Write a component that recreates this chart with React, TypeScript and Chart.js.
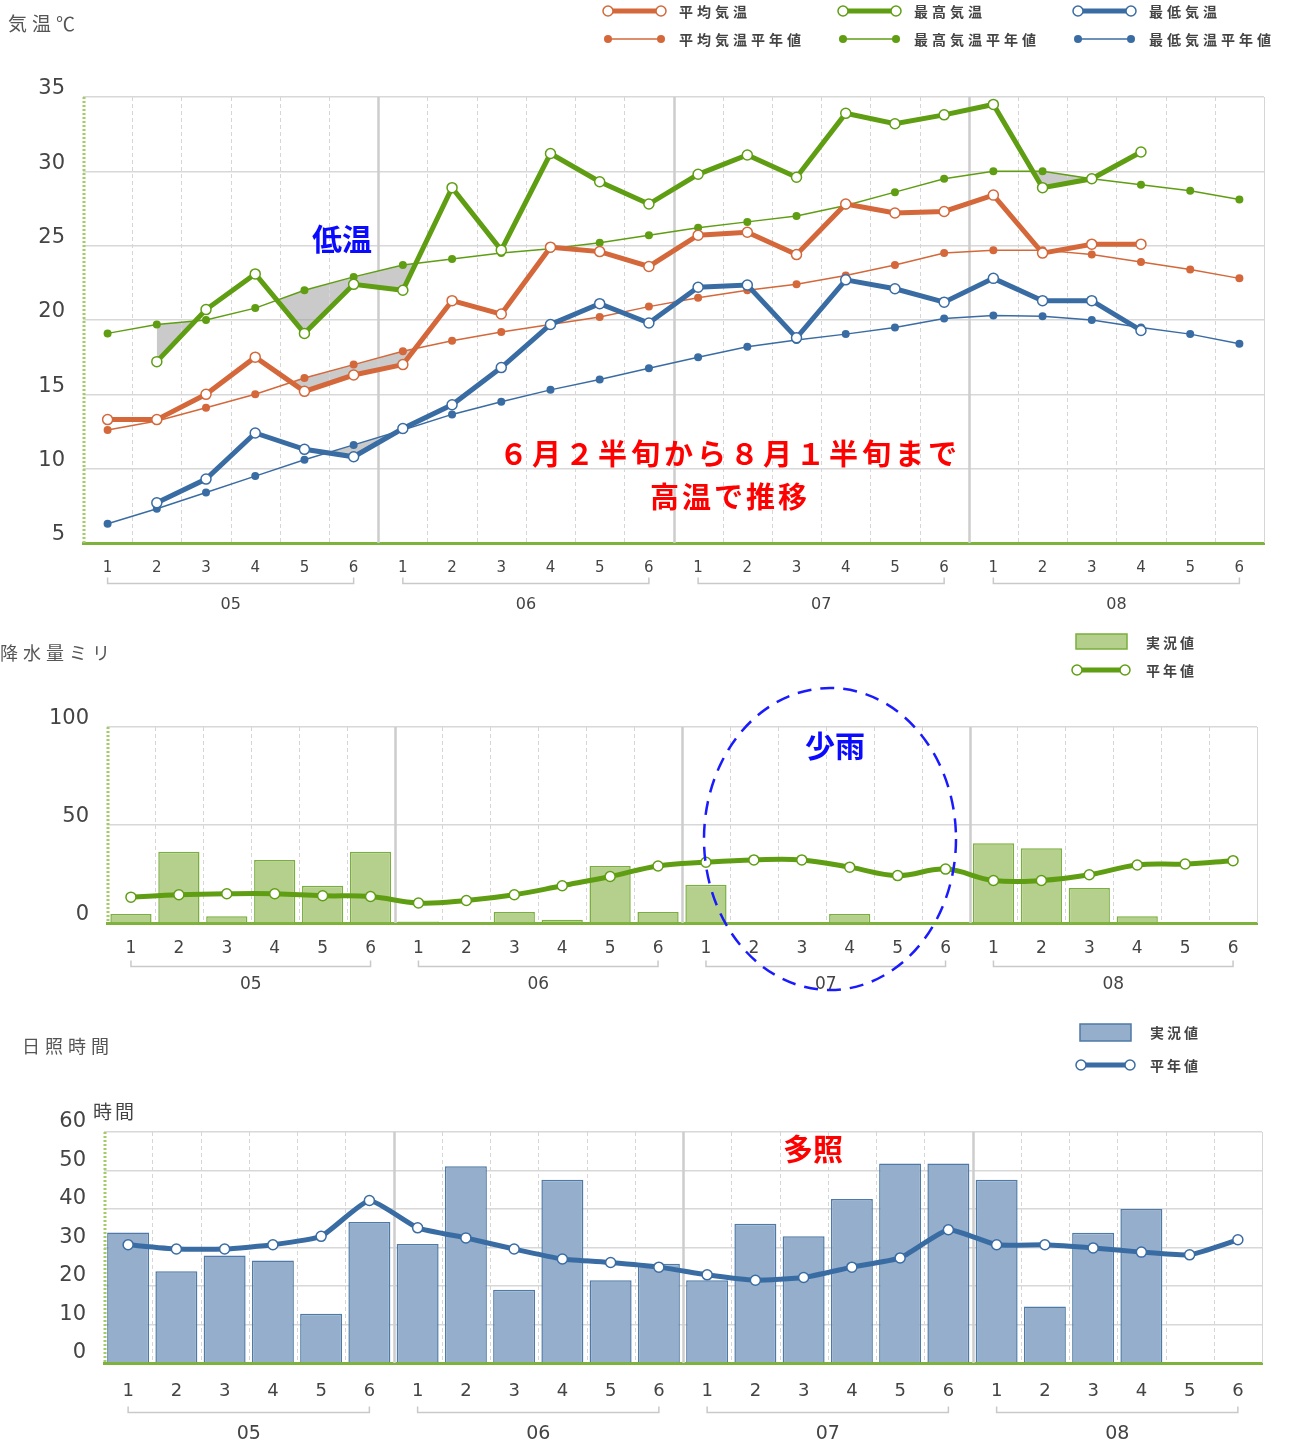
import React, { useEffect, useRef } from 'react';
import { Chart, registerables } from 'chart.js';

Chart.register(...registerables);

// ---------- data ----------
const months = ['05', '06', '07', '08'];
const pentads = ['1', '2', '3', '4', '5', '6'];
const categories = months.flatMap((m) => pentads.map((p) => `${m}-${p}`));

const avgTemp = [13.3, 13.3, 15.0, 17.5, 15.2, 16.3, 17.0, 21.3, 20.4, 24.9, 24.6, 23.6, 25.7, 25.9, 24.4, 27.8, 27.2, 27.3, 28.4, 24.5, 25.1, 25.1, null, null];
const avgTempNormal = [12.6, 13.2, 14.1, 15.0, 16.1, 17.0, 17.9, 18.6, 19.2, 19.7, 20.2, 20.9, 21.5, 22.0, 22.4, 23.0, 23.7, 24.5, 24.7, 24.7, 24.4, 23.9, 23.4, 22.8];
const maxTemp = [null, 17.2, 20.7, 23.1, 19.1, 22.4, 22.0, 28.9, 24.7, 31.2, 29.3, 27.8, 29.8, 31.1, 29.6, 33.9, 33.2, 33.8, 34.5, 28.9, 29.5, 31.3, null, null];
const maxTempNormal = [19.1, 19.7, 20.0, 20.8, 22.0, 22.9, 23.7, 24.1, 24.5, 24.8, 25.2, 25.7, 26.2, 26.6, 27.0, 27.7, 28.6, 29.5, 30.0, 30.0, 29.5, 29.1, 28.7, 28.1];
const minTemp = [null, 7.7, 9.3, 12.4, 11.3, 10.8, 12.7, 14.3, 16.8, 19.7, 21.1, 19.8, 22.2, 22.35, 18.8, 22.7, 22.1, 21.2, 22.8, 21.3, 21.3, 19.3, null, null];
const minTempNormal = [6.3, 7.3, 8.4, 9.5, 10.6, 11.6, 12.6, 13.65, 14.5, 15.3, 16.0, 16.75, 17.5, 18.2, 18.65, 19.05, 19.5, 20.1, 20.3, 20.25, 20.0, 19.5, 19.05, 18.4];

const precip = [4.6, 36.4, 3.4, 32.2, 19.0, 36.4, 0.8, 0, 5.6, 1.7, 29.1, 5.6, 19.5, 0, 0, 4.6, 0, 0, 40.7, 38.1, 17.8, 3.4, 0, 0];
const precipNormal = [13.2, 14.4, 14.9, 14.9, 13.9, 13.5, 10.2, 11.5, 14.4, 19.0, 23.7, 29.1, 31.0, 32.2, 32.2, 28.5, 24.2, 27.5, 21.7, 21.7, 24.6, 29.6, 30.1, 31.8];

const sunshine = [33.9, 23.8, 27.9, 26.6, 12.8, 36.6, 30.9, 51.1, 19.0, 47.6, 21.5, 25.8, 21.5, 36.2, 32.9, 42.6, 51.8, 51.8, 47.6, 14.7, 33.8, 40.0, null, null];
const sunshineNormal = [30.7, 29.6, 29.6, 30.7, 32.9, 42.2, 35.1, 32.5, 29.6, 27.0, 26.1, 24.9, 22.9, 21.5, 22.2, 24.9, 27.3, 34.6, 30.7, 30.7, 29.9, 28.8, 28.1, 32.0];

// ---------- styles ----------
const ORANGE = '#d4683a';
const GREEN = '#5f9e12';
const BLUE = '#3a6ca4';
const SHADE = 'rgba(150,150,150,0.5)';
const TICK_FONT = "'DejaVu Sans', Verdana, sans-serif";
const CJK = "'Noto Sans CJK JP', 'Noto Sans', sans-serif";

const decorPlugin = {
  id: 'decor',
  beforeDatasetsDraw(chart: any) {
    const { ctx, chartArea: a } = chart;
    const x = chart.scales.x;
    const n = chart.data.labels.length;
    ctx.save();
    for (let i = 1; i <= n; i++) {
      const px = Math.round(x.getPixelForValue(i - 0.5)) + 0.5;
      const monthEdge = i % pentads.length === 0 && i < n;
      ctx.beginPath();
      ctx.setLineDash(monthEdge || i === n ? [] : [4, 3]);
      ctx.lineWidth = monthEdge ? 2.5 : 1;
      ctx.strokeStyle = monthEdge ? '#cdcdcd' : '#d6d6d6';
      ctx.moveTo(px, a.top);
      ctx.lineTo(px, a.bottom);
      ctx.stroke();
    }
    ctx.setLineDash([2, 2]);
    ctx.lineWidth = 3;
    ctx.strokeStyle = '#a4cb66';
    ctx.beginPath();
    ctx.moveTo(a.left + 1, a.top);
    ctx.lineTo(a.left + 1, a.bottom);
    ctx.stroke();
    ctx.restore();
  },
  afterDraw(chart: any, _args: any, opts: any) {
    const { ctx, chartArea: a } = chart;
    const x = chart.scales.x;
    ctx.save();
    months.forEach((m, mi) => {
      const x1 = x.getPixelForValue(mi * pentads.length);
      const x2 = x.getPixelForValue(mi * pentads.length + pentads.length - 1);
      const by = Math.round(a.bottom + opts.bracketY) + 0.5;
      ctx.strokeStyle = '#c9c9c9';
      ctx.lineWidth = 1.5;
      ctx.beginPath();
      ctx.moveTo(x1, by - 6);
      ctx.lineTo(x1, by);
      ctx.lineTo(x2, by);
      ctx.lineTo(x2, by - 6);
      ctx.stroke();
      ctx.fillStyle = '#444';
      ctx.font = `${opts.monthSize}px ${TICK_FONT}`;
      ctx.textAlign = 'center';
      ctx.textBaseline = 'middle';
      ctx.fillText(m, (x1 + x2) / 2, a.bottom + opts.labelY);
    });
    ctx.restore();
  },
};

function xScale(height: number, size: number, padding: number) {
  return {
    type: 'category',
    offset: true,
    grid: { display: false, drawTicks: false },
    border: { display: true, color: '#7db33a', width: 3 },
    ticks: {
      color: '#444',
      font: { family: TICK_FONT, size },
      padding,
      autoSkip: false,
      maxRotation: 0,
      callback: (_v: any, i: number) => pentads[i % pentads.length],
    },
    afterFit: (s: any) => {
      s.height = height;
    },
  };
}

function yScale(width: number, min: number, max: number, step: number, labelOffset: number) {
  return {
    min,
    max,
    grid: { color: '#d8d8d8', lineWidth: 1.5, drawTicks: false },
    border: { display: false },
    ticks: {
      stepSize: step,
      color: '#444',
      font: { family: TICK_FONT, size: 21 },
      padding: 18,
      labelOffset,
    },
    afterFit: (s: any) => {
      s.width = width;
    },
  };
}

function lineDs(label: string, data: any[], color: string, thick: boolean, fill: any = false, tension = 0) {
  return {
    type: 'line',
    label,
    data,
    borderColor: color,
    backgroundColor: color,
    borderWidth: thick ? 5 : 1.5,
    pointRadius: thick ? 5 : 4,
    pointBackgroundColor: thick ? '#fff' : color,
    pointBorderColor: color,
    pointBorderWidth: thick ? 1.5 : 0,
    tension,
    fill,
    spanGaps: false,
  };
}

const basePlugins = (decor: any) => ({
  legend: { display: false },
  tooltip: { enabled: false },
  filler: { drawTime: 'beforeDatasetsDraw' },
  decor,
});

function tempConfig(): any {
  return {
    type: 'line',
    data: {
      labels: categories,
      datasets: [
        lineDs('平均気温', avgTemp, ORANGE, true, { target: 3, above: 'rgba(0,0,0,0)', below: SHADE }),
        lineDs('最高気温', maxTemp, GREEN, true, { target: 4, above: 'rgba(0,0,0,0)', below: SHADE }),
        lineDs('最低気温', minTemp, BLUE, true, { target: 5, above: 'rgba(0,0,0,0)', below: SHADE }),
        lineDs('平均気温平年値', avgTempNormal, ORANGE, false),
        lineDs('最高気温平年値', maxTempNormal, GREEN, false),
        lineDs('最低気温平年値', minTempNormal, BLUE, false),
      ],
    },
    options: {
      responsive: false,
      maintainAspectRatio: false,
      animation: false,
      layout: { padding: { top: 37, right: 26, left: 0, bottom: 0 } },
      scales: { x: xScale(77, 15, 16), y: yScale(83, 5, 35, 5, -8) },
      plugins: basePlugins({ bracketY: 40, labelY: 62, monthSize: 16 }),
    },
    plugins: [decorPlugin],
  };
}

function precipConfig(): any {
  return {
    type: 'bar',
    data: {
      labels: categories,
      datasets: [
        lineDs('平年値', precipNormal, GREEN, true, false, 0.4),
        {
          type: 'bar',
          label: '実況値',
          data: precip,
          backgroundColor: '#b5d08d',
          borderColor: '#7aae3e',
          borderWidth: 1.5,
          borderSkipped: 'bottom',
          barPercentage: 0.86,
          categoryPercentage: 1,
        },
      ],
    },
    options: {
      responsive: false,
      maintainAspectRatio: false,
      animation: false,
      layout: { padding: { top: 37, right: 33, left: 0, bottom: 0 } },
      scales: { x: xScale(77, 17, 15), y: yScale(107, 0, 100, 50, -8) },
      plugins: basePlugins({ bracketY: 43, labelY: 62, monthSize: 17 }),
    },
    plugins: [decorPlugin],
  };
}

function sunConfig(): any {
  return {
    type: 'bar',
    data: {
      labels: categories,
      datasets: [
        lineDs('平年値', sunshineNormal, BLUE, true, false, 0.15),
        {
          type: 'bar',
          label: '実況値',
          data: sunshine,
          backgroundColor: '#94aecb',
          borderColor: '#4f79a7',
          borderWidth: 1.5,
          borderSkipped: 'bottom',
          barPercentage: 0.87,
          categoryPercentage: 1,
        },
      ],
    },
    options: {
      responsive: false,
      maintainAspectRatio: false,
      animation: false,
      layout: { padding: { top: 42, right: 28, left: 0, bottom: 0 } },
      scales: { x: xScale(80, 18, 18), y: yScale(104, 0, 60, 10, -10) },
      plugins: basePlugins({ bracketY: 49, labelY: 71, monthSize: 19 }),
    },
    plugins: [decorPlugin],
  };
}

function ChartCanvas({ top, height, build }: { top: number; height: number; build: () => any }) {
  const ref = useRef<HTMLCanvasElement>(null);
  useEffect(() => {
    const chart = new Chart(ref.current as HTMLCanvasElement, build());
    return () => chart.destroy();
  }, []);
  return (
    <canvas
      ref={ref}
      width={1290}
      height={height}
      style={{ position: 'absolute', left: 0, top, width: 1290, height }}
    />
  );
}

type TxtProps = {
  x: number;
  y: number;
  size: number;
  color?: string;
  bold?: boolean;
  center?: boolean;
  spacing?: number;
  children: React.ReactNode;
};

function Txt({ x, y, size, color = '#444', bold = false, center = false, spacing = 0, children }: TxtProps) {
  return (
    <div
      style={{
        position: 'absolute',
        left: x,
        top: y - size / 2,
        fontSize: size,
        lineHeight: `${size}px`,
        fontFamily: CJK,
        fontWeight: bold ? 700 : 400,
        color,
        letterSpacing: spacing,
        whiteSpace: 'nowrap',
        transform: center ? 'translateX(-50%)' : undefined,
      }}
    >
      {children}
    </div>
  );
}

function LineSwatch({ x1, x2, y, color, thick }: { x1: number; x2: number; y: number; color: string; thick: boolean }) {
  return (
    <g>
      <line x1={x1} x2={x2} y1={y} y2={y} stroke={color} strokeWidth={thick ? 5 : 1.5} />
      {[x1, x2].map((cx) =>
        thick ? (
          <circle key={cx} cx={cx} cy={y} r={5} fill="#fff" stroke={color} strokeWidth={1.5} />
        ) : (
          <circle key={cx} cx={cx} cy={y} r={4} fill={color} />
        )
      )}
    </g>
  );
}

export default function App() {
  const legendCols = [
    { x: 603, color: ORANGE, a: '平均気温', n: '平均気温平年値' },
    { x: 838, color: GREEN, a: '最高気温', n: '最高気温平年値' },
    { x: 1073, color: BLUE, a: '最低気温', n: '最低気温平年値' },
  ];
  return (
    <div
      style={{
        position: 'absolute',
        left: 0,
        top: 0,
        width: 1290,
        height: 1443,
        background: '#fff',
        overflow: 'hidden',
      }}
    >
      <ChartCanvas top={60} height={560} build={tempConfig} />
      <ChartCanvas top={690} height={310} build={precipConfig} />
      <ChartCanvas top={1090} height={353} build={sunConfig} />

      <svg
        width={1290}
        height={1443}
        style={{ position: 'absolute', left: 0, top: 0, pointerEvents: 'none' }}
      >
        {legendCols.map((c) => (
          <g key={c.a}>
            <LineSwatch x1={c.x + 5} x2={c.x + 58} y={11} color={c.color} thick />
            <LineSwatch x1={c.x + 5} x2={c.x + 58} y={39} color={c.color} thick={false} />
          </g>
        ))}
        <rect x={1076} y={634} width={51} height={15} fill="#b5d08d" stroke="#7aae3e" strokeWidth={1.5} />
        <LineSwatch x1={1077} x2={1125} y={670} color={GREEN} thick />
        <rect x={1080} y={1024} width={51} height={17} fill="#94aecb" stroke="#4f79a7" strokeWidth={1.5} />
        <LineSwatch x1={1081} x2={1130} y={1065} color={BLUE} thick />
        <ellipse
          cx={830}
          cy={839}
          rx={126}
          ry={151}
          fill="none"
          stroke="#1a1aff"
          strokeWidth={2.5}
          strokeDasharray="14 9"
        />
      </svg>

      <Txt x={8} y={22} size={19} spacing={5} color="#555">気温℃</Txt>
      {legendCols.map((c) => (
        <React.Fragment key={c.a}>
          <Txt x={c.x + 76} y={11} size={14} spacing={4} bold>{c.a}</Txt>
          <Txt x={c.x + 76} y={39} size={14} spacing={4} bold>{c.n}</Txt>
        </React.Fragment>
      ))}

      <Txt x={342} y={237} size={30} bold center color="#0a0aff">低温</Txt>
      <Txt x={730} y={452} size={29} bold center spacing={4} color="#ff0000">６月２半旬から８月１半旬まで</Txt>
      <Txt x={730} y={495} size={29} bold center spacing={3} color="#ff0000">高温で推移</Txt>

      <Txt x={0} y={652} size={18} spacing={5} color="#555">降水量ミリ</Txt>
      <Txt x={1146} y={642} size={14} spacing={3} bold>実況値</Txt>
      <Txt x={1146} y={670} size={14} spacing={3} bold>平年値</Txt>
      <Txt x={835} y={744} size={30} bold center color="#0a0aff">少雨</Txt>

      <Txt x={22} y={1045} size={18} spacing={5} color="#555">日照時間</Txt>
      <Txt x={1150} y={1032} size={14} spacing={3} bold>実況値</Txt>
      <Txt x={1150} y={1065} size={14} spacing={3} bold>平年値</Txt>
      <Txt x={93} y={1110} size={19} spacing={3} color="#444">時間</Txt>
      <Txt x={813} y={1147} size={30} bold center color="#ff0000">多照</Txt>
    </div>
  );
}
